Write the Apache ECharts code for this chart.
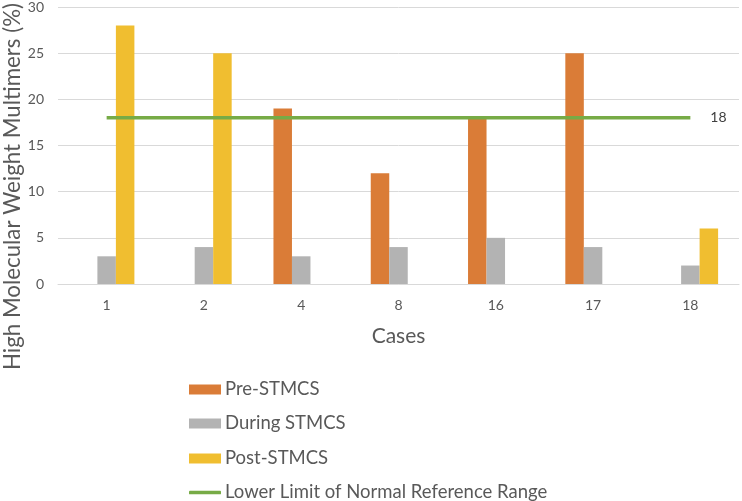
<!DOCTYPE html>
<html><head><meta charset="utf-8">
<script src="https://cdn.jsdelivr.net/npm/echarts@6/dist/echarts.min.js"></script>
<style>html,body{margin:0;padding:0;background:#fff}#c{width:742px;height:501px}</style>
</head><body><div id="c"></div>
<script>
const categories = ['1','2','4','8','16','17','18'];
const preSTMCS = [null, null, 19, 12, 18, 25, null];
const duringSTMCS = [3, 4, 3, 4, 5, 4, 2];
const postSTMCS = [28, 25, null, null, null, null, 6];
const lowerLimit = [18, 18, 18, 18, 18, 18, 18];
const seriesNames = ['Pre-STMCS', 'During STMCS', 'Post-STMCS', 'Lower Limit of Normal Reference Range'];
const yAxisTitle = 'High Molecular Weight Multimers (%)';
const xAxisTitle = 'Cases';

const font = 'Lato, "Open Sans", sans-serif';
const legendTops = [375, 409, 444, 478];
function mkLegend(i, icon, h) {
  return {
    orient: 'vertical', left: 184, top: legendTops[i],
    itemWidth: 32, itemHeight: h,
    textStyle: { fontSize: 18.5, color: '#595959', fontFamily: font, padding: [0,0,0,-1] },
    data: [{ name: seriesNames[i], icon: icon }]
  };
}
const chart = echarts.init(document.getElementById('c'));
chart.setOption({
  animation: false,
  textStyle: { fontFamily: font },
  grid: { left: 58, right: 3, top: 6, height: 278 },
  legend: [mkLegend(0, 'rect', 10), mkLegend(1, 'rect', 10), mkLegend(2, 'rect', 10), mkLegend(3, 'roundRect', 3.5)],
  xAxis: {
    type: 'category', data: categories,
    name: xAxisTitle, nameLocation: 'middle', nameGap: 42,
    nameTextStyle: { fontSize: 21, color: '#595959', fontFamily: font },
    axisLine: { lineStyle: { color: '#d9d9d9' } },
    axisTick: { show: false },
    axisLabel: { fontSize: 14, color: '#595959', margin: 14, fontFamily: font }
  },
  yAxis: {
    type: 'value', min: 0, max: 30, interval: 5,
    axisLine: { show: false }, axisTick: { show: false },
    splitLine: { lineStyle: { color: '#d9d9d9' } },
    axisLabel: { fontSize: 14, color: '#595959', margin: 14, fontFamily: font }
  },
  graphic: [{
    type: 'text', left: 2, top: 3,
    rotation: Math.PI / 2, originX: 0, originY: 0,
    style: { text: yAxisTitle, fontSize: 22.3, fill: '#595959', fontFamily: font }
  }],
  series: [
    { name: seriesNames[0], type: 'bar', data: preSTMCS, barWidth: 18.5, barGap: '0%', itemStyle: { color: '#DA7C37' } },
    { name: seriesNames[1], type: 'bar', data: duringSTMCS, barWidth: 18.5, barGap: '0%', itemStyle: { color: '#B3B3B3' } },
    { name: seriesNames[2], type: 'bar', data: postSTMCS, barWidth: 18.5, barGap: '0%', itemStyle: { color: '#F0BE30' } },
    { name: seriesNames[3], type: 'line', data: lowerLimit, symbol: 'none',
      lineStyle: { color: '#77AB46', width: 3.5 }, itemStyle: { color: '#77AB46' },
      endLabel: { show: true, formatter: '{c}', color: '#404040', fontSize: 14, distance: 20, fontFamily: font } }
  ]
});
</script></body></html>
